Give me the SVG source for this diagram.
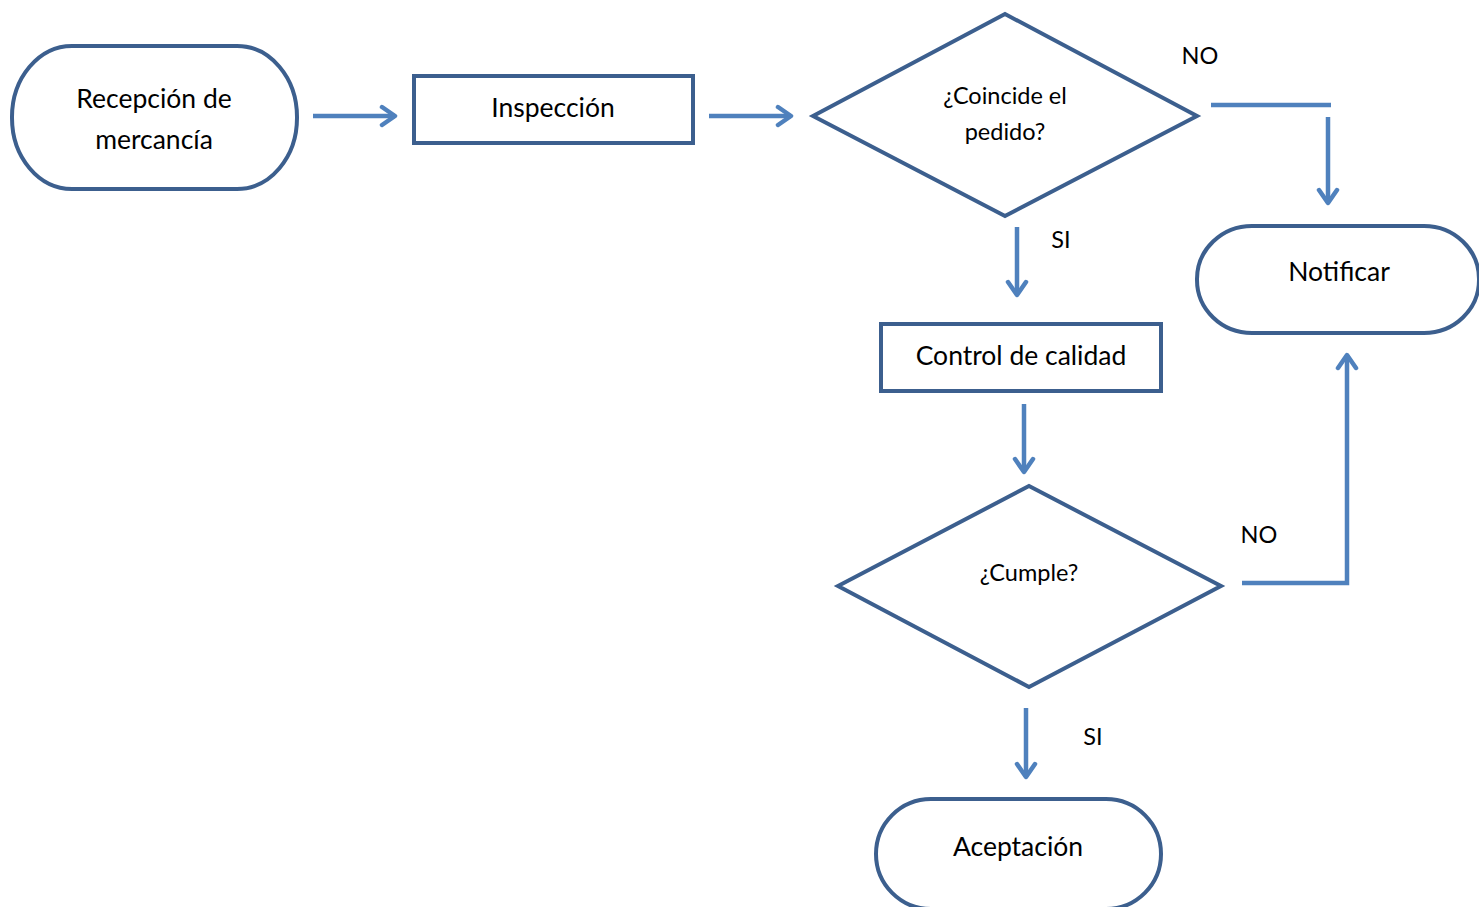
<svg xmlns="http://www.w3.org/2000/svg" width="1479" height="907" viewBox="0 0 1479 907">
<style>
.shape{fill:#fff;stroke:#3C5F8E;stroke-width:4}
.conn{fill:none;stroke:#4F81BD;stroke-width:4.5}
.t{font-family:Lato,"Open Sans",sans-serif;font-size:26.5px;fill:#000;text-anchor:middle}
.ts{font-family:Lato,"Open Sans",sans-serif;font-size:23.5px;fill:#000;text-anchor:middle}
</style>
<defs>
<marker id="ah" viewBox="0 0 20 24" refX="17" refY="12" markerWidth="20" markerHeight="24" markerUnits="userSpaceOnUse" orient="auto">
<path d="M4,3 L17,12 L4,21" fill="none" stroke="#4F81BD" stroke-width="4.5" stroke-linecap="round" stroke-linejoin="round"/>
</marker>
</defs>
<rect width="1479" height="907" fill="#fff"/>
<g id="connectors">
<line class="conn" x1="313" y1="116" x2="395" y2="116" marker-end="url(#ah)"/>
<line class="conn" x1="709" y1="116" x2="791" y2="116" marker-end="url(#ah)"/>
<line class="conn" x1="1211" y1="105" x2="1331" y2="105"/>
<line class="conn" x1="1328" y1="117" x2="1328" y2="203" marker-end="url(#ah)"/>
<line class="conn" x1="1017" y1="227" x2="1017" y2="295" marker-end="url(#ah)"/>
<line class="conn" x1="1024" y1="404" x2="1024" y2="472" marker-end="url(#ah)"/>
<polyline class="conn" points="1242,583 1347,583 1347,355" marker-end="url(#ah)"/>
<line class="conn" x1="1026" y1="708" x2="1026" y2="777" marker-end="url(#ah)"/>
<text class="ts" x="1200" y="64">NO</text>
<text class="ts" x="1061" y="248">SI</text>
<text class="ts" x="1259" y="543">NO</text>
<text class="ts" x="1093" y="745">SI</text>
</g>
<g id="recepcion">
<rect class="shape" x="12" y="46" width="285" height="143" rx="60" ry="71"/>
<text class="t" x="154" y="108">Recepción de</text>
<text class="t" x="154" y="149">mercancía</text>
</g>
<g id="inspeccion">
<rect class="shape" x="414" y="76" width="279" height="67"/>
<text class="t" x="553" y="117">Inspección</text>
</g>
<g id="coincide">
<polygon class="shape" points="813,116 1005,14 1197,116 1005,216"/>
<text class="ts" x="1005" y="104">¿Coincide el</text>
<text class="ts" x="1005" y="140">pedido?</text>
</g>
<g id="notificar">
<rect class="shape" x="1197" y="226" width="282" height="107" rx="55" ry="53"/>
<text class="t" x="1339" y="281">Notificar</text>
</g>
<g id="control">
<rect class="shape" x="881" y="324" width="280" height="67"/>
<text class="t" x="1021" y="365">Control de calidad</text>
</g>
<g id="cumple">
<polygon class="shape" points="838,586 1029,486 1221,586 1029,687"/>
<text class="ts" x="1029" y="581">¿Cumple?</text>
</g>
<g id="aceptacion">
<rect class="shape" x="876" y="799" width="285" height="110" rx="55" ry="55"/>
<text class="t" x="1018" y="856">Aceptación</text>
</g>
</svg>
